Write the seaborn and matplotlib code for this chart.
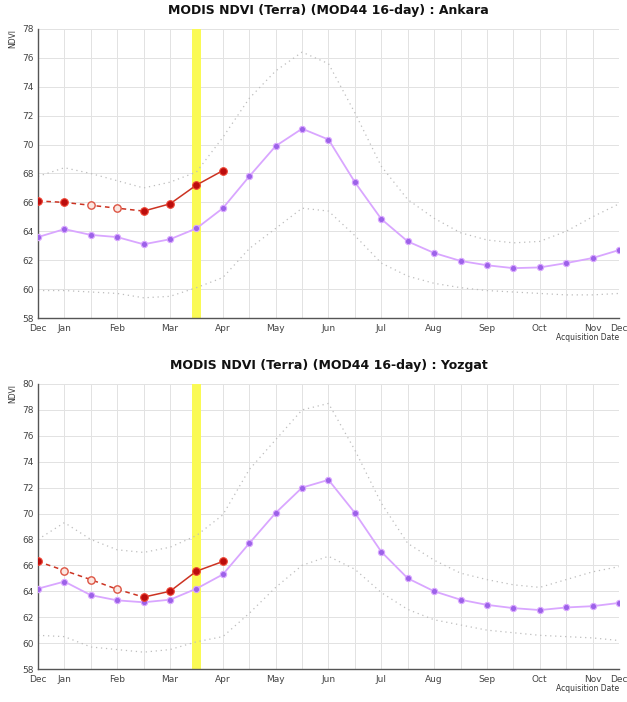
import numpy as np
import pandas as pd
import matplotlib
matplotlib.use("Agg")
import matplotlib.pyplot as plt
import seaborn as sns

# ---- data ----
periods = list(range(23))
tick_labels = ['Dec', 'Jan', '', 'Feb', '', 'Mar', '', 'Apr', '', 'May', '', 'Jun', '',
               'Jul', '', 'Aug', '', 'Sep', '', 'Oct', '', 'Nov', 'Dec']

ankara_mean = [63.6, 64.15, 63.75, 63.6, 63.1, 63.45, 64.2, 65.6, 67.8, 69.9, 71.1, 70.35,
               67.4, 64.85, 63.3, 62.5, 61.95, 61.65, 61.45, 61.5, 61.8, 62.15, 62.7]
ankara_upper = [67.8, 68.4, 68.0, 67.5, 67.0, 67.4, 68.1, 70.5, 73.2, 75.1, 76.4, 75.6,
                72.2, 68.5, 66.2, 64.9, 63.9, 63.4, 63.2, 63.3, 64.0, 65.0, 65.9]
ankara_lower = [59.9, 59.9, 59.8, 59.7, 59.4, 59.5, 60.1, 60.8, 62.8, 64.2, 65.6, 65.4,
                63.7, 61.8, 60.9, 60.4, 60.1, 59.9, 59.8, 59.7, 59.6, 59.6, 59.7]
ankara_current = [66.1, 66.0, 65.8, 65.6, 65.4, 65.9, 67.2, 68.2]
ankara_open = [2, 3]

yozgat_mean = [64.2, 64.75, 63.7, 63.3, 63.15, 63.35, 64.2, 65.3, 67.7, 70.05, 72.0, 72.6,
               70.05, 67.05, 65.0, 64.0, 63.35, 62.95, 62.7, 62.55, 62.75, 62.85, 63.1]
yozgat_upper = [68.0, 69.3, 68.0, 67.2, 67.0, 67.4, 68.3, 69.9, 73.4, 75.7, 78.0, 78.5,
                74.9, 70.8, 67.7, 66.4, 65.4, 64.9, 64.5, 64.3, 64.9, 65.5, 65.9]
yozgat_lower = [60.6, 60.5, 59.7, 59.5, 59.3, 59.5, 60.1, 60.5, 62.3, 64.3, 66.0, 66.7,
                65.7, 63.9, 62.6, 61.8, 61.4, 61.0, 60.8, 60.6, 60.5, 60.4, 60.2]
yozgat_current = [66.3, 65.6, 64.9, 64.15, 63.55, 64.0, 65.55, 66.3]
yozgat_open = [1, 2, 3]

current_period = 6
dashed_until = 4

panels = [
    ("MODIS NDVI (Terra) (MOD44 16-day) : Ankara", ankara_mean, ankara_upper, ankara_lower,
     ankara_current, ankara_open, (58, 78)),
    ("MODIS NDVI (Terra) (MOD44 16-day) : Yozgat", yozgat_mean, yozgat_upper, yozgat_lower,
     yozgat_current, yozgat_open, (58, 80)),
]

sns.set_theme(style="whitegrid")
plt.rcParams['font.family'] = ['DejaVu Sans']

fig = plt.figure(figsize=(6.27, 7.02), dpi=100)
axes_rects = [[0.0606, 0.547, 0.9266, 0.4117], [0.0606, 0.047, 0.9266, 0.406]]

mean_line = '#d9a6ff'
mean_mark = '#9c62e8'
cur_line = '#cc3322'
cur_mark = '#bb0d0d'
bound_col = '#bdbdbd'

for rect, (title, mean, upper, lower, current, open_idx, ylim) in zip(axes_rects, panels):
    ax = fig.add_axes(rect)
    ax.set_facecolor('white')
    ax.axvspan(current_period - 0.16, current_period + 0.16, color='#fafa55', zorder=1, lw=0)

    df = pd.DataFrame({'period': periods, 'mean': mean, 'upper': upper, 'lower': lower})
    sns.lineplot(data=df, x='period', y='upper', ax=ax, color=bound_col, lw=0.9,
                 linestyle=(0, (1, 3)), zorder=2)
    sns.lineplot(data=df, x='period', y='lower', ax=ax, color=bound_col, lw=0.9,
                 linestyle=(0, (1, 3)), zorder=2)
    sns.lineplot(data=df, x='period', y='mean', ax=ax, color=mean_line, lw=1.3, zorder=3,
                 marker='o', markersize=4.5, markerfacecolor=mean_mark,
                 markeredgecolor=mean_line, markeredgewidth=0.8)

    cdf = pd.DataFrame({'period': periods[:len(current)], 'value': current})
    sns.lineplot(data=cdf.iloc[:dashed_until + 1], x='period', y='value', ax=ax,
                 color=cur_line, lw=1.1, linestyle=(0, (3, 2.5)), zorder=4)
    sns.lineplot(data=cdf.iloc[dashed_until:], x='period', y='value', ax=ax,
                 color=cur_line, lw=1.1, zorder=4)
    filled = cdf[~cdf['period'].isin(open_idx)]
    hollow = cdf[cdf['period'].isin(open_idx)]
    sns.scatterplot(data=filled, x='period', y='value', ax=ax, s=30, color=cur_mark,
                    edgecolor='#ee4433', linewidth=0.8, zorder=5)
    sns.scatterplot(data=hollow, x='period', y='value', ax=ax, s=28, color='#fbe6e0',
                    edgecolor='#dd5544', linewidth=1.0, zorder=5)

    ax.set_xlim(0, 22)
    ax.set_ylim(*ylim)
    ax.set_xticks(periods)
    ax.set_xticklabels(tick_labels, fontsize=6.5, color='#444444')
    ax.set_yticks(np.arange(ylim[0], ylim[1] + 1, 2))
    ax.set_yticklabels([str(v) for v in range(ylim[0], ylim[1] + 1, 2)], fontsize=6.5,
                       color='#444444')
    ax.tick_params(axis='both', direction='in', length=3, width=0.8, color='#555555')
    ax.tick_params(axis='x', pad=4)
    ax.tick_params(axis='y', pad=3)
    ax.grid(True, color='#e2e2e2', lw=0.7)
    for s in ['top', 'right']:
        ax.spines[s].set_visible(False)
    for s in ['left', 'bottom']:
        ax.spines[s].set_visible(True)
        ax.spines[s].set_color('#555555')
        ax.spines[s].set_linewidth(1.0)
    ax.set_title(title, fontsize=9, fontweight='bold', pad=11, color='#111111')
    ax.set_ylabel('NDVI', fontsize=5.5, loc='top', labelpad=4, color='#333333')
    ax.set_xlabel('Acquisition Date', fontsize=5.5, loc='right', labelpad=0.5, color='#333333')

fig.savefig('out.png', dpi=100, facecolor='white')
